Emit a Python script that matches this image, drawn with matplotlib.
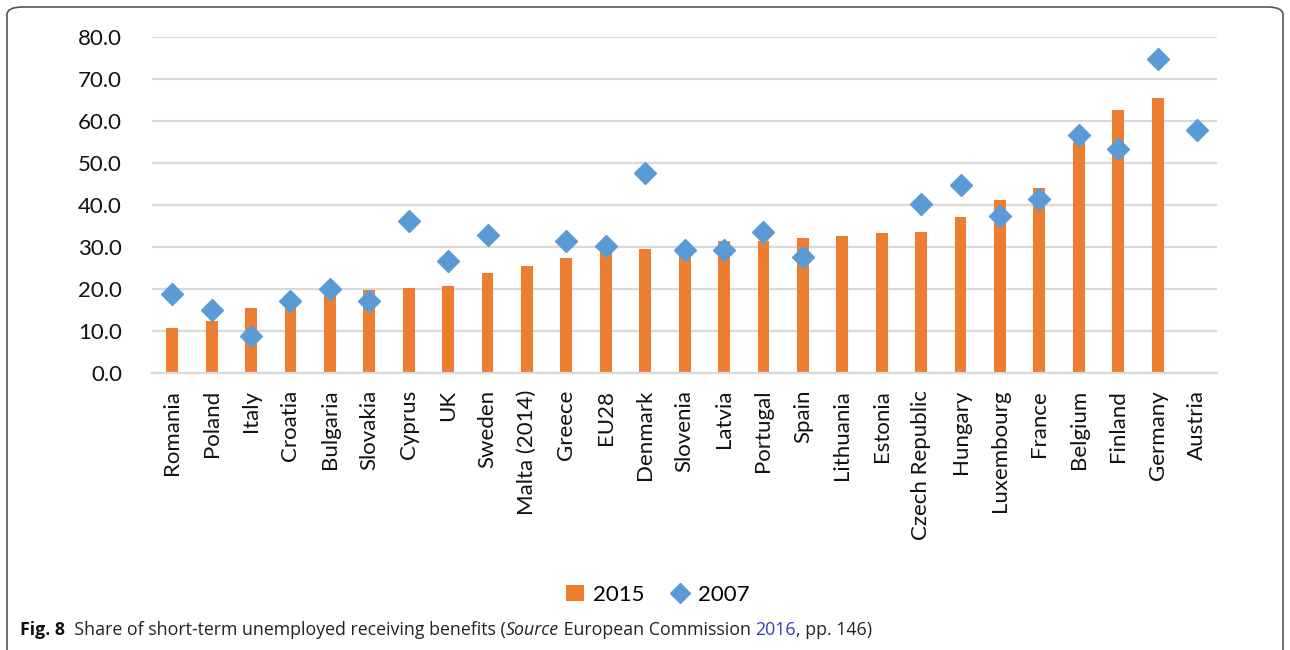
import numpy as np
import matplotlib.pyplot as plt
from matplotlib.patches import FancyBboxPatch

countries = ["Romania", "Poland", "Italy", "Croatia", "Bulgaria", "Slovakia", "Cyprus", "UK",
             "Sweden", "Malta (2014)", "Greece", "EU28", "Denmark", "Slovenia", "Latvia",
             "Portugal", "Spain", "Lithuania", "Estonia", "Czech Republic", "Hungary",
             "Luxembourg", "France", "Belgium", "Finland", "Germany", "Austria"]
share_2015 = [10.8, 12.4, 15.5, 17.0, 20.0, 19.9, 20.3, 20.8, 23.8, 25.5, 27.3, 29.4, 29.6,
              29.2, 31.4, 31.5, 32.1, 32.7, 33.3, 33.7, 37.1, 41.1, 44.0, 55.1, 62.6, 65.6, np.nan]
share_2007 = [18.8, 15.0, 8.8, 17.1, 20.0, 17.1, 36.2, 26.7, 32.8, np.nan, 31.4, 30.3, 47.7,
              29.3, 29.3, 33.7, 27.7, np.nan, np.nan, 40.2, 44.7, 37.5, 41.4, 56.6, 53.3, 74.7, 57.9]
yticks = [0, 10, 20, 30, 40, 50, 60, 70, 80]

plt.rcParams['font.family'] = ['Lato', 'DejaVu Sans']

fig = plt.figure(figsize=(12.9, 6.5), dpi=100)
ax = fig.add_axes([0.1182, 0.426, 0.825, 0.517])

x = np.arange(len(countries))
bars = ax.bar(x, share_2015, width=0.3, color='#ED7D31', label='2015', zorder=2)
pts, = ax.plot(x, share_2007, linestyle='none', marker='D', markersize=11.5, color='#5B9BD5',
               label='2007', zorder=3)

ax.set_xlim(-0.5, len(countries) - 0.5)
ax.set_ylim(0, 80)
ax.set_yticks(yticks)
ax.set_yticklabels([f"{v:.1f}" for v in yticks], fontsize=16, color='#111111')
ax.set_xticks(x)
ax.set_xticklabels(countries, rotation=90, fontsize=16, color='#111111')
ax.tick_params(length=0, pad=12)
ax.tick_params(axis='y', pad=22)
ax.yaxis.grid(True, color='#D9D9D9', linewidth=1.6, zorder=0)
ax.set_axisbelow(True)
for s in ['top', 'right', 'left']:
    ax.spines[s].set_visible(False)
ax.spines['bottom'].set_color('#D9D9D9')
ax.spines['bottom'].set_linewidth(1.6)

fig.legend(handles=[bars, pts], labels=['2015', '2007'], loc='center',
           bbox_to_anchor=(0.51, 0.085), ncol=2, frameon=False, fontsize=16,
           handlelength=0.8, handletextpad=0.4, columnspacing=1.2, markerscale=0.9)

# frame, open at the bottom
box = FancyBboxPatch((7 / 1290, -0.05), 1276 / 1290, (643 / 650) + 0.05,
                     boxstyle="round,pad=0,rounding_size=0.012", transform=fig.transFigure,
                     fill=False, edgecolor='#555555', linewidth=1.2)
fig.patches.append(box)

# caption
parts = [("Fig. 8", dict(weight='bold'), '#111111'),
         ("  Share of short-term unemployed receiving benefits (", {}, '#222222'),
         ("Source", dict(style='italic'), '#222222'),
         (" European Commission ", {}, '#222222'),
         ("2016", {}, '#2F3FBF'),
         (", pp. 146)", {}, '#222222')]
renderer = fig.canvas.get_renderer()
xpos = 20 / 1290
for txt, kw, col in parts:
    t = fig.text(xpos, (650 - 630) / 650, txt, fontsize=12.8, color=col, va='center',
                 family=['Open Sans', 'DejaVu Sans'], **kw)
    bb = t.get_window_extent(renderer=renderer)
    xpos += bb.width / 1290

fig.savefig("out.png", dpi=100)
